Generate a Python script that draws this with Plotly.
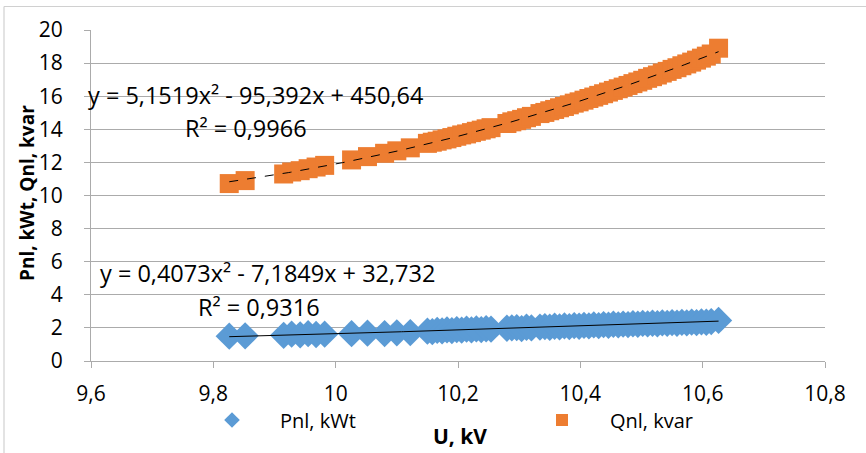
import numpy as np
import plotly.graph_objects as go

# Voltage U, kV (shared by both series)
u_kv = [9.826, 9.852, 9.915, 9.928, 9.942, 9.955, 9.968, 9.982, 10.026, 10.052,
        10.080, 10.100, 10.122, 10.150, 10.158, 10.166, 10.174, 10.182, 10.190, 10.198,
        10.206, 10.214, 10.222, 10.230, 10.238, 10.246, 10.254, 10.280, 10.288, 10.296,
        10.304, 10.312, 10.320, 10.334, 10.342, 10.350, 10.358, 10.366, 10.374, 10.382,
        10.390, 10.398, 10.406, 10.414, 10.422, 10.430, 10.438, 10.446, 10.454, 10.462,
        10.470, 10.478, 10.486, 10.494, 10.502, 10.510, 10.518, 10.526, 10.534, 10.542,
        10.550, 10.558, 10.566, 10.574, 10.582, 10.590, 10.598, 10.606, 10.614, 10.626]

# Qnl, kvar
q_kvar = [10.72, 10.90, 11.30, 11.42, 11.50, 11.62, 11.72, 11.82, 12.15, 12.35,
          12.55, 12.70, 12.88, 13.15, 13.22, 13.28, 13.36, 13.42, 13.50, 13.58,
          13.66, 13.72, 13.80, 13.88, 13.95, 14.03, 14.10, 14.35, 14.45, 14.52,
          14.60, 14.70, 14.78, 14.95, 15.02, 15.12, 15.20, 15.30, 15.38, 15.48,
          15.58, 15.66, 15.76, 15.86, 15.95, 16.05, 16.15, 16.25, 16.35, 16.45,
          16.55, 16.65, 16.76, 16.86, 16.96, 17.08, 17.18, 17.28, 17.40, 17.50,
          17.62, 17.72, 17.84, 17.95, 18.06, 18.18, 18.30, 18.42, 18.55, 18.90]

# Pnl, kWt
p_kwt = [1.50, 1.52, 1.55, 1.62, 1.58, 1.65, 1.60, 1.62, 1.65, 1.68,
         1.66, 1.70, 1.72, 1.80, 1.78, 1.85, 1.82, 1.88, 1.84, 1.90,
         1.86, 1.92, 1.88, 1.94, 1.90, 1.95, 1.92, 1.98, 2.00, 2.02,
         1.96, 2.04, 2.00, 2.05, 2.08, 2.04, 2.10, 2.06, 2.12, 2.08,
         2.14, 2.10, 2.15, 2.12, 2.18, 2.14, 2.20, 2.16, 2.22, 2.18,
         2.23, 2.20, 2.25, 2.22, 2.27, 2.24, 2.28, 2.25, 2.30, 2.27,
         2.32, 2.28, 2.33, 2.30, 2.35, 2.32, 2.37, 2.34, 2.38, 2.45]

x_ticks = [9.6, 9.8, 10.0, 10.2, 10.4, 10.6, 10.8]
x_tick_labels = ["9,6", "9,8", "10", "10,2", "10,4", "10,6", "10,8"]
y_ticks = [0, 2, 4, 6, 8, 10, 12, 14, 16, 18, 20]

eq_q = "y = 5,1519x² - 95,392x + 450,64"
r2_q = "R² = 0,9966"
eq_p = "y = 0,4073x² - 7,1849x + 32,732"
r2_p = "R² = 0,9316"

FONT = "Open Sans"
BLUE = "#5B9BD5"
ORANGE = "#ED7D31"
GRID = "#ababab"

W, H = 866, 453
ML, MR, MT, MB = 91, 41, 30, 92

x_arr = np.array(u_kv)
xf = np.linspace(x_arr.min(), x_arr.max(), 200)
cq = np.polyfit(x_arr, np.array(q_kvar), 2)
cp = np.polyfit(x_arr, np.array(p_kwt), 2)

pw = W - ML - MR
ph = H - MT - MB

def pap_x(p):
    return (p - ML) / pw

def pap_y(p):
    return (H - MB - p) / ph

fig = go.Figure()
fig.add_trace(go.Scatter(x=u_kv, y=p_kwt, mode="markers", name="Pnl, kWt", legend="legend",
                         marker=dict(symbol="diamond", size=21, color=BLUE, line=dict(width=0))))
fig.add_trace(go.Scatter(x=u_kv, y=q_kvar, mode="markers", name="Qnl, kvar", legend="legend2",
                         marker=dict(symbol="square", size=19, color=ORANGE, line=dict(width=0))))
fig.add_trace(go.Scatter(x=xf, y=np.polyval(cq, xf), mode="lines", showlegend=False,
                         line=dict(color="black", width=1, dash="dash"), hoverinfo="skip"))
fig.add_trace(go.Scatter(x=xf, y=np.polyval(cp, xf), mode="lines", showlegend=False,
                         line=dict(color="black", width=1), hoverinfo="skip"))

annos = [
    dict(text=eq_q, x=pap_x(255), y=pap_y(95)),
    dict(text=r2_q, x=pap_x(246), y=pap_y(128)),
    dict(text=eq_p, x=pap_x(267), y=pap_y(273)),
    dict(text=r2_p, x=pap_x(259), y=pap_y(307)),
]
for a in annos:
    fig.add_annotation(xref="paper", yref="paper", xanchor="center", yanchor="middle",
                       showarrow=False, font=dict(family=FONT, size=23.5, color="black"), **a)

fig.add_annotation(xref="paper", yref="paper", x=pap_x(27), y=pap_y(193), text="<b>Pnl, kWt, Qnl, kvar</b>",
                   textangle=-90, showarrow=False, xanchor="center", yanchor="middle",
                   font=dict(family=FONT, size=19, color="black"))
fig.add_annotation(xref="paper", yref="paper", x=pap_x(460), y=pap_y(436), text="<b>U, kV</b>",
                   showarrow=False, xanchor="center", yanchor="middle",
                   font=dict(family=FONT, size=21, color="black"))

# outer chart border (top and left visible)
fig.add_shape(type="line", xref="paper", yref="paper", x0=pap_x(4), x1=pap_x(870), y0=pap_y(6.5), y1=pap_y(6.5),
              line=dict(color="#d0d0d0", width=1.2))
fig.add_shape(type="line", xref="paper", yref="paper", x0=pap_x(4), x1=pap_x(4), y0=pap_y(6.5), y1=pap_y(460),
              line=dict(color="#d0d0d0", width=1.2))

leg_common = dict(orientation="h", xanchor="left", yanchor="middle", itemsizing="constant",
                  itemwidth=86,
                  font=dict(family=FONT, size=20, color="black"), bgcolor="rgba(0,0,0,0)")

fig.update_layout(
    width=W, height=H, margin=dict(l=ML, r=MR, t=MT, b=MB, autoexpand=False),
    paper_bgcolor="white", plot_bgcolor="white",
    separators=", ",
    font=dict(family=FONT, size=20, color="black"),
    showlegend=True,
    legend=dict(x=pap_x(184), y=pap_y(420), **leg_common),
    legend2=dict(x=pap_x(514), y=pap_y(420), **leg_common),
    xaxis=dict(range=[9.6, 10.8], tickvals=x_ticks, ticktext=x_tick_labels,
               showgrid=False, zeroline=False, showline=True, linecolor=GRID, linewidth=1,
               ticks="outside", ticklen=6, tickcolor=GRID, ticklabelstandoff=8,
               tickfont=dict(family=FONT, size=21, color="black")),
    yaxis=dict(range=[0, 20], tickvals=y_ticks, showgrid=True, gridcolor=GRID, gridwidth=1,
               zeroline=False, showline=True, linecolor=GRID, linewidth=1,
               ticks="outside", ticklen=6, tickcolor=GRID, ticklabelstandoff=17,
               tickfont=dict(family=FONT, size=21, color="black")),
)

fig.write_html("out.html")
